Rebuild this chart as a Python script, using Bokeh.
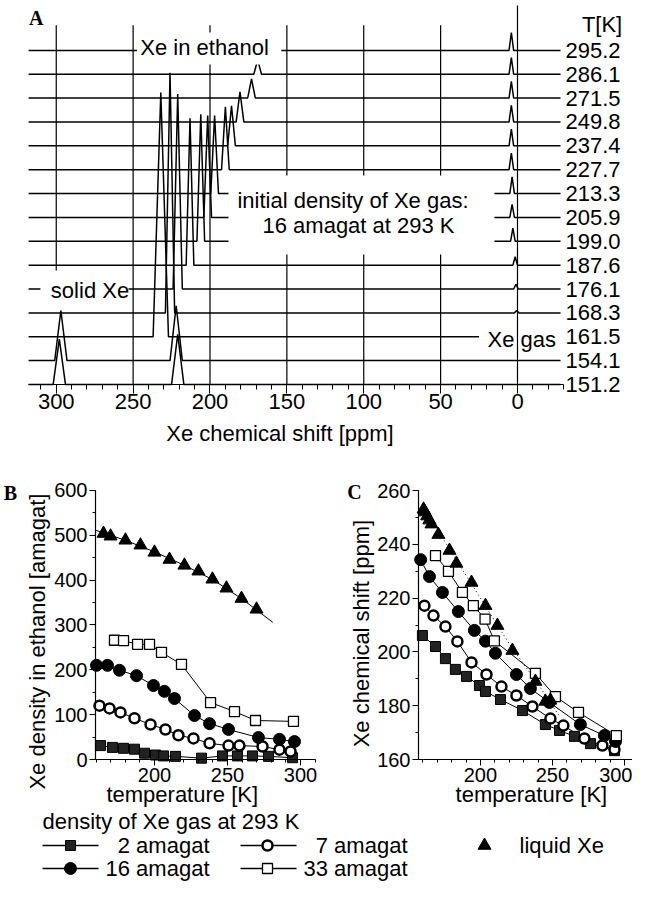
import math
from bokeh.plotting import figure
from bokeh.models import Range1d, FixedTicker, LinearAxis
from bokeh.layouts import column, row
from bokeh.embed import file_html
from bokeh.resources import INLINE
from bokeh.core.properties import value

FONT = "Liberation Sans"
SERIF = "Liberation Serif"
NAN = float("nan")

# ---------------- Panel A data (spectra, listed top to bottom) ----------------
temps_A = ["295.2", "286.1", "271.5", "249.8", "237.4", "227.7", "213.3", "205.9",
           "199.0", "187.6", "176.1", "168.3", "161.5", "154.1", "151.2"]
dissolved_ppm = [166.7, 169, 173, 180.5, 186, 190, 197, 201.5, 206, 213, 221, 226, 232, 222, 221]
dissolved_h = [0.6, 0.6, 0.8, 1.26, 1.68, 2.64, 3.27, 4.27, 5.32, 6.16, 8.17, 10.06, 10.23, 2.3, 2.1]
dissolved_w = [2.5, 2.5, 2.5, 2.5, 2.5, 2.5, 2.5, 2.5, 2.5, 2.5, 3, 3, 5, 4, 4]
gas_ppm = [4, 4, 4, 4, 4, 4, 3.5, 3.5, 3, 1.5, 1, 0.5, 0, 0, 0]
gas_h = [0.75, 0.7, 0.7, 0.7, 0.7, 0.7, 0.7, 0.55, 0.55, 0.35, 0.2, 0.1, 0, 0, 0]
gas_w = [1.5] * 15
solid_ppm = [NAN] * 13 + [297, 298]
solid_h = [0] * 13 + [2.1, 1.9]
solid_w = [4] * 15
trace_end = [-28] * 12 + [25, -28, -28]
grid_ppm = [300, 250, 200, 150, 100, 50, 0]
grid_bottom = [4.78, 0, 0, 0, 0, 0, 0]
grid_top = [15.05, 15.05, 15.05, 15.05, 15.05, 15.05, 15.88]
A_ticks = [0, 50, 100, 150, 200, 250, 300]

# ---------------- Panel B data: Xe density in ethanol ----------------
b_T_2 = [163.0, 171.2, 178.8, 186.3, 193.2, 200.7, 206.2, 214.4, 232.2, 246.6, 256.8, 267.1, 278.1, 294.5]
b_rho_2 = [31, 27, 25, 23, 14, 10, 8, 7, 3, 8, 8, 8, 7, 4]
b_T_7 = [162.3, 169.2, 176.7, 186.3, 197.3, 207.5, 216.4, 226.7, 237.7, 250.7, 258.2, 274.0, 285.6, 293.2]
b_rho_7 = [120, 114, 105, 92, 78, 67, 54, 47, 36, 31, 31, 29, 22, 18]
b_T_16 = [160.3, 167.8, 176.0, 187.7, 199.3, 206.8, 213.7, 227.4, 237.7, 250.7, 271.2, 285.6, 295.9]
b_rho_16 = [210, 210, 199, 187, 165, 152, 136, 98, 80, 67, 49, 45, 40]
b_T_33 = [172.6, 178.8, 188.4, 196.6, 204.8, 218.5, 238.4, 254.8, 269.2, 295.2]
b_rho_33 = [266, 265, 257, 257, 239, 212, 127, 107, 87, 85]
b_T_liq = [165.1, 169.9, 180.1, 190.4, 200.0, 210.3, 220.5, 230.1, 239.7, 249.3, 259.6, 269.9]
b_rho_liq = [504, 498, 489, 478, 462, 446, 433, 420, 402, 382, 359, 335]
b_fit_T = [160, 180, 200, 220, 240, 260, 281]
b_fit_rho = [511, 489, 463, 434, 401, 358, 306]

# ---------------- Panel C data: Xe chemical shift ----------------
c_T_2 = [159.7, 168.8, 175.7, 182.6, 190.3, 199.3, 203.5, 213.9, 229.2, 245.1, 254.9, 265.3, 276.4, 293.1]
c_d_2 = [206.1, 202.0, 197.5, 193.5, 190.9, 187.5, 185.3, 182.3, 178.2, 173.0, 170.8, 168.6, 165.9, 163.3]
c_T_7 = [161.1, 167.4, 175.7, 184.0, 193.8, 204.2, 214.6, 225.0, 236.1, 248.6, 257.6, 272.2, 284.7, 293.1]
c_d_7 = [217.2, 213.5, 209.4, 203.9, 196.1, 191.6, 187.1, 183.8, 179.7, 175.2, 172.6, 167.8, 165.2, 163.7]
c_T_16 = [158.5, 164.6, 173.6, 184.7, 195.8, 203.5, 210.4, 225.0, 234.7, 247.9, 269.4, 286.1, 293.8]
c_d_16 = [234.3, 228.0, 222.1, 215.0, 208.0, 204.0, 199.5, 191.6, 186.4, 181.2, 173.0, 168.9, 166.7]
c_T_33 = [168.8, 177.8, 187.5, 195.1, 203.2, 209.7, 238.2, 252.1, 268.1, 294.4]
c_d_33 = [235.8, 229.9, 222.1, 217.2, 212.2, 204.1, 192.0, 183.4, 177.5, 168.9]
c_T_liq = [160.5, 161.5, 163.0, 164.5, 166.0, 170.8, 178.5, 183.3, 193.8, 203.5, 211.8, 222.2, 238.2, 245.1, 248.6]
c_d_liq = [253.0, 252.0, 250.5, 249.0, 247.5, 243.6, 237.7, 232.9, 225.8, 217.2, 209.8, 200.5, 189.0, 181.6, 182.0]
c_fit_T = [160, 180, 200, 220, 240, 255]
c_fit_d = [254, 237, 220, 203, 188, 176]

legend_header = "density of Xe gas at 293 K"
legend_names = ["2 amagat", "7 amagat", "16 amagat", "33 amagat", "liquid Xe"]


def make_fig(w, h, xr, yr):
    p = figure(width=w, height=h, x_range=Range1d(*xr), y_range=Range1d(*yr), min_border=0,
               x_axis_location=None, y_axis_location=None,
               toolbar_location=None, output_backend="svg")
    p.outline_line_color = None
    p.background_fill_color = "white"
    p.border_fill_color = "white"
    p.grid.visible = False
    return p


def make_axis(loc, ticks, minor, bounds, size="20px"):
    ax = LinearAxis(fixed_location=loc, bounds=bounds,
                    ticker=FixedTicker(ticks=ticks, minor_ticks=minor))
    ax.axis_line_color = "black"
    ax.axis_line_width = 1.2
    ax.major_tick_line_color = "black"
    ax.minor_tick_line_color = "black"
    ax.major_tick_in = 0
    ax.minor_tick_in = 0
    ax.major_tick_out = 6
    ax.minor_tick_out = 3
    ax.major_label_text_font = FONT
    ax.major_label_text_font_size = size
    ax.major_label_text_color = "black"
    ax.major_label_standoff = 2
    return ax


def txt(p, x, y, texts, size="22px", font=FONT, bold=False, angle=0.0, align="center"):
    p.text(x=x, y=y, text=texts, text_font=value(font), text_font_size=size,
           text_font_style="bold" if bold else "normal", text_align=align,
           text_baseline="middle", angle=angle, text_color="black")


# ================= Panel A =================
pA = make_fig(632, 462, (336.26, -74.8), (-3.27, 16.09))
n = len(temps_A)
xs_tr, ys_tr = [], []
for i in range(n):
    b = n - 1 - i
    peaks = []
    for c, h, w in ((dissolved_ppm[i], dissolved_h[i], dissolved_w[i]),
                    (gas_ppm[i], gas_h[i], gas_w[i]),
                    (solid_ppm[i], solid_h[i], solid_w[i])):
        if h > 0 and not math.isnan(c):
            peaks.append((c, h, w))
    peaks.sort(key=lambda t: -t[0])
    xx, yy = [318], [b]
    for c, h, w in peaks:
        if c - w < trace_end[i]:
            continue
        xx += [c + w, c, c - w]
        yy += [b, b + h, b]
    xx.append(trace_end[i])
    yy.append(b)
    xs_tr.append(xx)
    ys_tr.append(yy)
pA.multi_line(xs_tr, ys_tr, line_color="black", line_width=1.5)
pA.segment(x0=grid_ppm[:-1], y0=grid_bottom[:-1], x1=grid_ppm[:-1], y1=grid_top[:-1],
           line_color="black", line_width=1.2)
# white label boxes
pA.quad(left=[247.5, 188, 310.3], right=[153.6, 15, 253], bottom=[13.41, 5.45, 3.44],
        top=[14.75, 8.76, 4.44], fill_color="white", line_color=None)
pA.segment(x0=grid_ppm[-1:], y0=grid_bottom[-1:], x1=grid_ppm[-1:], y1=grid_top[-1:],
           line_color="black", line_width=1.2)
txt(pA, [-31.2] * n, [n - 1 - i for i in range(n)], temps_A, align="left")
txt(pA, [-55], [15.1], ["T[K]"])
txt(pA, [245.3, 303.5, 19.5], [14.12, 3.94, 1.89], ["Xe in ethanol", "solid Xe", "Xe gas"], align="left")
txt(pA, [107, 103.4], [7.71, 6.66], ["initial density of Xe gas:", "16 amagat at 293 K"])
txt(pA, [313], [15.34], ["A"], size="20px", font=SERIF, bold=True)
axA = make_axis(0, A_ticks, list(range(-30, 320, 10)), (-30, 318), size="22px")
axA.major_tick_out = 9
axA.minor_tick_out = 5
axA.major_label_standoff = 1
pA.add_layout(axA, "below")
txt(pA, [154.5], [-2.05], ["Xe chemical shift [ppm]"])

# ================= Panel B =================
pB = make_fig(322, 345, (94.53, 315.08), (-107.06, 662.45))
pB.add_layout(make_axis(0, [200, 250, 300], list(range(160, 311, 10)), (159.6, 310.3)), "below")
pB.add_layout(make_axis(159.6, [0, 100, 200, 300, 400, 500, 600], list(range(0, 601, 50)), (0, 600)), "left")
for T, r in ((b_T_2, b_rho_2), (b_T_7, b_rho_7), (b_T_16, b_rho_16), (b_T_33, b_rho_33)):
    pB.line(T, r, line_color="black", line_width=1)
pB.line(b_fit_T, b_fit_rho, line_color="black", line_width=1)
pB.scatter(b_T_2, b_rho_2, marker="square", size=10, fill_color="#222222", line_color="black")
pB.scatter(b_T_7, b_rho_7, marker="circle", size=10, fill_color="white", line_color="black", line_width=2.5)
pB.scatter(b_T_16, b_rho_16, marker="circle", size=12, fill_color="black", line_color="black")
pB.scatter(b_T_33, b_rho_33, marker="square", size=10, fill_color="white", line_color="black", line_width=1.3)
pB.scatter(b_T_liq, b_rho_liq, marker="triangle", size=13, fill_color="black", line_color="black")
txt(pB, [219], [-78], ["temperature [K]"])
txt(pB, [119.9], [263], ["Xe density in ethanol [amagat]"], angle=math.pi / 2)
txt(pB, [101.4], [594], ["B"], size="20px", font=SERIF, bold=True)

# ================= Panel C =================
pC = make_fig(310, 345, (90.33, 305.6), (142.16, 270.41))
pC.add_layout(make_axis(160, [200, 250, 300], list(range(160, 306, 10)), (157, 305.6)), "below")
pC.add_layout(make_axis(157, [160, 180, 200, 220, 240, 260], list(range(160, 261, 10)), (160, 260)), "left")
for T, d in ((c_T_2, c_d_2), (c_T_7, c_d_7), (c_T_16, c_d_16), (c_T_33, c_d_33)):
    pC.line(T, d, line_color="black", line_width=1)
pC.line(c_fit_T, c_fit_d, line_color="black", line_width=1, line_dash="1 3")
pC.scatter(c_T_2, c_d_2, marker="square", size=10, fill_color="#222222", line_color="black")
pC.scatter(c_T_7, c_d_7, marker="circle", size=10, fill_color="white", line_color="black", line_width=2.5)
pC.scatter(c_T_16, c_d_16, marker="circle", size=12, fill_color="black", line_color="black")
pC.scatter(c_T_33, c_d_33, marker="square", size=10, fill_color="white", line_color="black", line_width=1.3)
pC.scatter(c_T_liq, c_d_liq, marker="triangle", size=13, fill_color="black", line_color="black")
txt(pC, [235.4], [147], ["temperature [K]"])
txt(pC, [117.4], [206.8], ["Xe chemical shift [ppm]"], angle=math.pi / 2)
txt(pC, [112.5], [259.6], ["C"], size="20px", font=SERIF, bold=True)

# ================= Legend =================
pL = make_fig(632, 75, (0, 632), (0, 75))
txt(pL, [42], [61], [legend_header], align="left")
pL.segment(x0=[42, 240, 42, 240], y0=[37, 37, 14, 14], x1=[98, 296, 98, 296], y1=[37, 37, 14, 14],
           line_color="black", line_width=1.3)
pL.scatter([70], [37], marker="square", size=10, fill_color="#222222", line_color="black")
pL.scatter([267], [37], marker="circle", size=10, fill_color="white", line_color="black", line_width=2.5)
pL.scatter([484], [37], marker="triangle", size=13, fill_color="black", line_color="black")
pL.scatter([70], [14], marker="circle", size=12, fill_color="black", line_color="black")
pL.scatter([267], [14], marker="square", size=10, fill_color="white", line_color="black", line_width=1.3)
txt(pL, [209, 407, 209, 407], [37, 37, 14, 14],
    [legend_names[0], legend_names[1], legend_names[2], legend_names[3]], align="right")
txt(pL, [519], [37], [legend_names[4]], align="left")

layout = column(pA, row(pB, pC), pL)
open("out.html", "w").write(file_html(layout, INLINE))
